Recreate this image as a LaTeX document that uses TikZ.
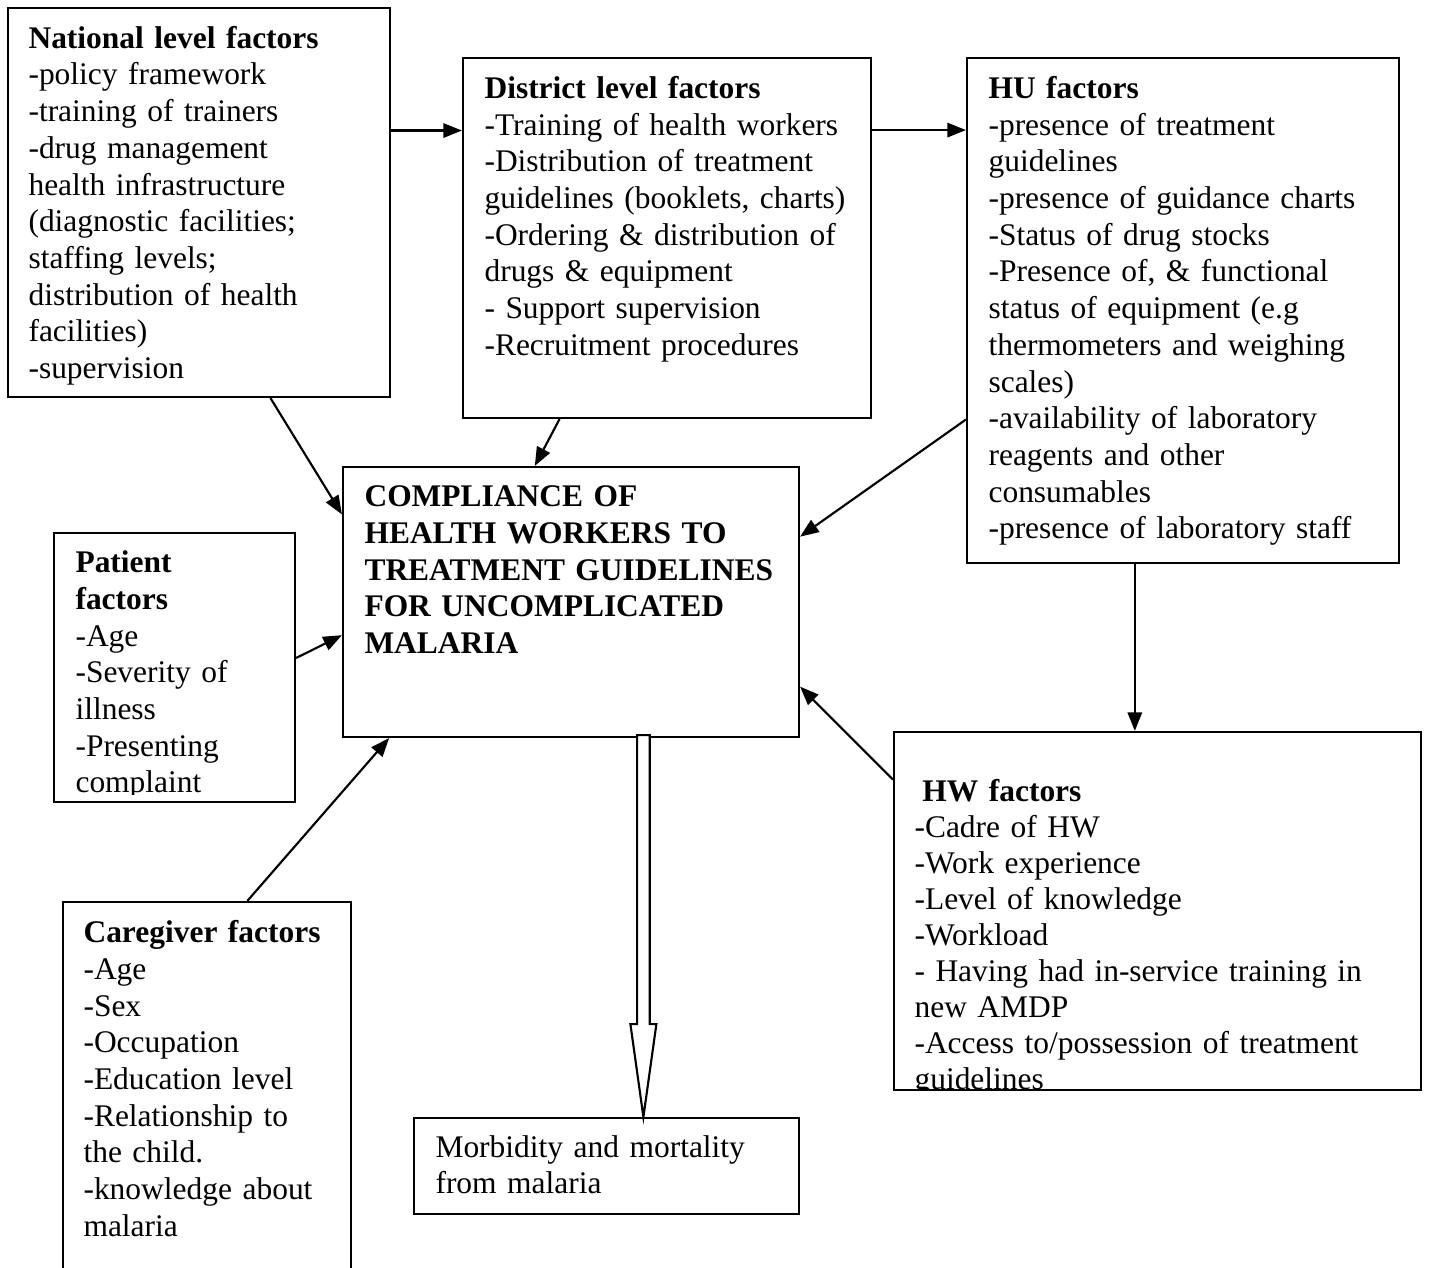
\documentclass[tikz,border=0pt]{standalone}
\usepackage{fontspec}
\setmainfont{Liberation Serif}
\usetikzlibrary{arrows.meta,calc,fit}
\begin{document}
\begin{tikzpicture}[x=0.375pt,y=-0.375pt,
  box/.style={draw, line width=0.8pt, inner sep=0pt},
  txt/.style={anchor=base west, inner sep=0pt, align=left, text width=190pt,
              font=\fontsize{11.8pt}{13.76pt}\selectfont},
  arr/.style={line width=0.8pt, -{Triangle[length=7pt,width=5.4pt]}},
  hollow/.style={line width=0.8pt, fill=white, line join=miter}]
\useasboundingbox (0,0) rectangle (1429,1268);
\fill[white] (0,0) rectangle (1429,1268);
\clip (0,0) rectangle (1429,1268);

% boxes
\node[box, fit={(8,8) (390,397)}] (nat) {};
\node[box, fit={(463,58) (871,418)}] (dist) {};
\node[box, fit={(967,58) (1399,563)}] (hu) {};
\node[box, fit={(343,467) (799,737)}] (comp) {};
\node[box, fit={(54,533) (295,802)}] (pat) {};
\node[box, fit={(63,902) (351,1300)}] (care) {};
\node[box, fit={(894,732) (1421,1090)}] (hw) {};
\node[box, fit={(414,1118) (799,1214)}] (morb) {};

% texts
\node[txt] (natT) at (28,48.3) {\textbf{National level factors}\\
-policy framework\\
-training of trainers\\
-drug management\\
health infrastructure\\
(diagnostic facilities;\\
staffing levels;\\
distribution of health\\
facilities)\\
-supervision};

\node[txt] (distT) at (484,98.5) {\textbf{District level factors}\\
-Training of health workers\\
-Distribution of treatment\\
guidelines (booklets, charts)\\
-Ordering \& distribution of\\
drugs \& equipment\\
- Support supervision\\
-Recruitment procedures};

\node[txt] (huT) at (988,98.5) {\textbf{HU factors}\\
-presence of treatment\\
guidelines\\
-presence of guidance charts\\
-Status of drug stocks\\
-Presence of, \& functional\\
status of equipment (e.g\\
thermometers and weighing\\
scales)\\
-availability of laboratory\\
reagents and other\\
consumables\\
-presence of laboratory staff};

\node[txt, font=\fontsize{11.8pt}{13.76pt}\selectfont\bfseries] (compT) at (364,506.7) {COMPLIANCE OF\\
HEALTH WORKERS TO\\
TREATMENT GUIDELINES\\
FOR UNCOMPLICATED\\
MALARIA};

\begin{scope}
\clip (54,533) rectangle (295,794);
\node[txt] (patT) at (75,572.7) {\textbf{Patient}\\
\textbf{factors}\\
-Age\\
-Severity of\\
illness\\
-Presenting\\
complaint};
\end{scope}

\node[txt] (careT) at (83,942.7) {\textbf{Caregiver factors}\\
-Age\\
-Sex\\
-Occupation\\
-Education level\\
-Relationship to\\
the child.\\
-knowledge about\\
malaria};

\begin{scope}
\clip (894,732) rectangle (1421,1089);
\node[txt, font=\fontsize{11.8pt}{13.5pt}\selectfont] (hwT) at (914,801) {\hspace*{0.25em}\textbf{HW factors}\\
-Cadre of HW\\
-Work experience\\
-Level of knowledge\\
-Workload\\
- Having had in-service training in\\
new AMDP\\
-Access to/possession of treatment\\
guidelines};
\end{scope}

\node[txt] (morbT) at (435,1157) {Morbidity and mortality\\
from malaria};

% connectors
\coordinate (p1) at ($(nat.north east)!0.316!(nat.south east)$);
\draw[arr] (p1) -- (p1 -| dist.west);
\coordinate (p2) at ($(dist.north east)!0.202!(dist.south east)$);
\draw[arr] (p2) -- (p2 -| hu.west);

\draw[arr] ($(nat.south west)!0.686!(nat.south east)$) -- ($(comp.north west)!0.178!(comp.south west)$);
\draw[arr] ($(dist.south west)!0.238!(dist.south east)$) -- ($(comp.north west)!0.421!(comp.north east)$);
\draw[arr] ($(hu.north west)!0.715!(hu.south west)$) -- ($(comp.north east)!0.260!(comp.south east)$);
\draw[arr] ($(pat.north east)!0.465!(pat.south east)$) -- ($(comp.north west)!0.622!(comp.south west)$);
\draw[arr] ($(care.north west)!0.639!(care.north east)$) -- ($(comp.south west)!0.103!(comp.south east)$);
\draw[arr] ($(hw.north west)!0.135!(hw.south west)$) -- ($(comp.north east)!0.811!(comp.south east)$);
\coordinate (p3) at ($(hu.south west)!0.389!(hu.south east)$);
\draw[arr] (p3) -- (p3 |- hw.north);

% hollow arrow
\coordinate (ha) at ($(comp.south west)!0.658!(comp.south east)$);
\draw[hollow] ($(ha)+(-6.3,-3)$) -- ($(ha)+(-6.3,286)$) -- ($(ha)+(-13,286)$)
  -- (ha |- morb.north) -- ($(ha)+(13,286)$) -- ($(ha)+(6.3,286)$)
  -- ($(ha)+(6.3,-3)$) -- cycle;
\end{tikzpicture}
\end{document}
